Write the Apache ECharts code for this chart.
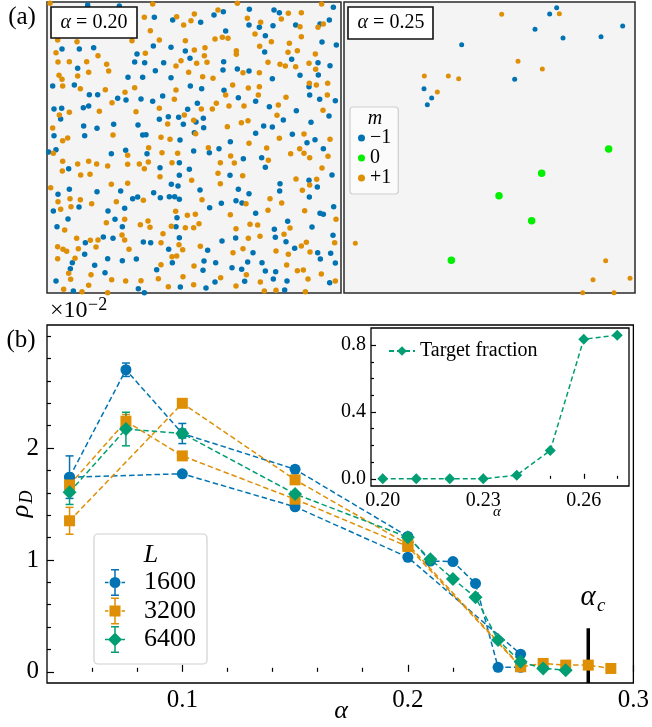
<!DOCTYPE html>
<html><head><meta charset="utf-8">
<script src="https://cdn.jsdelivr.net/npm/echarts@6/dist/echarts.min.js"></script>
<style>html,body{margin:0;padding:0;background:#fff}#c{width:652px;height:727px}</style>
</head><body><div id="c"></div>
<script>
// ---------- Panel (a): snapshot positions (panel units) ----------
const snap020Minus = [[263,15],[358,18],[463,52],[518,60],[186,147],[238,147],[281,143],[411,162],[460,138],[513,142],[556,153],[570,175],[404,186],[434,188],[491,188],[233,205],[466,212],[384,232],[428,232],[513,233],[571,258],[158,258],[223,255],[268,284],[293,284],[353,295],[378,300],[423,297],[458,304],[488,288],[162,327],[185,325],[250,323],[266,318],[563,328],[536,352],[182,357],[251,378],[291,385],[341,373],[414,375],[478,358],[505,350],[550,373],[162,407],[254,407],[428,405],[438,404],[540,420],[583,398],
[1000,22],[670,35],[748,28],[822,30],[838,38],[642,45],[602,67],[747,75],[778,82],[819,77],[887,75],[960,72],[988,60],[677,93],[796,107],[966,126],[1009,135],[794,156],[875,178],[671,185],[954,188],[990,197],[669,210],[712,207],[747,213],[817,236],[900,226],[955,225],[927,260],[605,266],[672,271],[715,293],[767,304],[929,285],[959,298],[1006,302],[592,310],[808,320],[889,332],[850,360],[987,348],[588,366],[610,355],[933,367],[611,383],[791,378],[817,381],[767,400],[877,403],[945,419],[691,425],[921,428],
[146,456],[168,449],[334,461],[377,451],[441,461],[581,453],[480,503],[538,488],[206,506],[538,526],[568,508],[208,568],[174,583],[291,575],[362,573],[398,596],[413,591],[461,578],[481,593],[508,590],[524,590],[538,598],[514,553],[534,558],[237,621],[160,633],[374,625],[324,633],[531,653],[204,657],[345,658],[367,680],[171,680],[528,680],[310,711],[339,715],[256,728],[430,726],[452,728],[538,713],[506,748],[254,763],[323,776],[367,782],[409,777],[217,788],[517,788],[284,796],[211,806],[470,809],[315,818],[168,843],[541,861],[220,873],[415,866],[433,878],
[628,458],[657,446],[970,446],[730,476],[785,473],[796,502],[690,526],[927,541],[996,525],[840,551],[952,561],[600,570],[715,568],[747,581],[839,573],[928,591],[629,623],[664,610],[708,602],[726,609],[1001,620],[767,640],[960,640],[970,643],[863,664],[823,688],[936,681],[707,714],[826,712],[858,725],[999,706],[666,723],[623,751],[759,758],[884,745],[953,758],[992,760],[961,777],[612,783],[647,788],[743,786],[786,788],[1006,789],[609,811],[696,803],[725,808],[796,813],[827,815],[820,837],[861,843],[645,846],[734,844],[989,848],[618,864],[854,870]];
const snap020Plus = [[150,10],[458,12],[433,52],[530,50],[551,75],[573,62],[583,42],[451,92],[173,120],[231,125],[396,122],[478,120],[556,122],[168,158],[294,167],[436,160],[583,150],[543,182],[174,186],[208,185],[260,185],[528,198],[320,193],[326,213],[266,217],[177,226],[186,238],[233,228],[566,217],[528,270],[188,258],[241,266],[316,269],[375,277],[404,263],[336,308],[523,298],[178,345],[208,337],[298,334],[408,335],[478,325],[553,345],[158,384],[339,405],[503,372],[581,361],[188,422],[203,414],[483,412],[510,418],
[712,10],[965,12],[654,30],[865,40],[904,38],[742,55],[782,67],[844,57],[900,80],[954,82],[970,72],[765,102],[904,110],[645,117],[667,112],[684,115],[814,125],[779,139],[868,130],[615,143],[613,167],[709,152],[709,163],[864,157],[892,152],[946,162],[590,190],[621,187],[804,187],[840,193],[856,198],[887,200],[927,190],[729,218],[778,218],[947,208],[608,230],[639,235],[928,250],[949,255],[983,250],[698,255],[745,264],[778,260],[677,285],[775,285],[858,292],[982,285],[649,310],[604,327],[637,327],[687,318],[732,318],[835,315],[969,331],[831,346],[682,380],[724,368],[744,362],[587,401],[838,415],[912,402],[990,418],[747,430],
[160,460],[383,466],[446,443],[486,458],[533,460],[188,484],[233,492],[266,484],[290,492],[323,498],[383,493],[418,492],[445,486],[433,506],[516,488],[187,513],[242,525],[270,523],[480,530],[575,541],[152,563],[334,553],[383,550],[430,601],[174,605],[210,596],[241,599],[275,611],[213,620],[182,628],[349,605],[527,634],[562,646],[586,643],[374,658],[319,668],[421,674],[444,663],[450,682],[194,690],[514,679],[556,683],[581,683],[489,701],[366,705],[374,720],[230,715],[271,721],[294,720],[483,728],[537,734],[173,740],[189,748],[200,754],[235,746],[288,741],[387,748],[548,749],[225,775],[173,776],[516,770],[530,768],[483,794],[582,798],[206,820],[273,824],[212,838],[335,839],[377,843],[423,842],[475,836],[549,830],[266,856],[505,860],[581,854],[191,868],[246,875],[323,878],
[625,443],[800,444],[692,468],[805,481],[872,461],[899,446],[912,460],[929,473],[984,469],[661,488],[703,489],[966,504],[654,520],[728,527],[661,551],[888,537],[950,538],[929,555],[907,571],[606,599],[738,611],[810,596],[845,609],[804,631],[914,632],[691,644],[597,671],[750,673],[773,675],[870,684],[1008,658],[708,686],[745,715],[780,709],[852,703],[1004,728],[601,739],[729,746],[699,758],[904,738],[919,727],[828,753],[865,763],[930,756],[860,795],[739,824],[892,812],[910,810],[964,822],[662,833],[781,846],[924,837],[1006,843],[708,858],[793,873],[828,871],[916,875]];
const snap025Minus = [[629,42],[650,23],[848,78],[585,88],[669,114],[783,110],[365,134],[524,238],[252,266],[275,294],[262,314]];
const snap025Zero = [[806,447],[605,520],[477,587],[575,662],[334,781]];
const snap025Plus = [[485,43],[658,41],[534,184],[607,207],[253,228],[325,228],[356,236],[292,276],[46,730],[797,782],[759,839],[870,835],[728,878],[822,878]];

// ---------- Panel (b): rho_D (x1e-2) vs alpha ----------
const rho1600a = [[0.05,1.74],[0.075,2.70],[0.1,2.13],[0.15,1.81],[0.2,1.21],[0.21,0.99],[0.22,0.985],[0.23,0.79],[0.24,0.04],[0.25,0.04]];
const rho1600b = [[0.05,1.74],[0.1,1.77],[0.15,1.475],[0.2,1.024],[0.25,0.158]];
const rho3200a = [[0.05,1.67],[0.075,2.24],[0.1,1.93],[0.15,1.543],[0.2,1.12],[0.25,0.045],[0.26,0.075],[0.27,0.06],[0.28,0.06],[0.29,0.03]];
const rho3200b = [[0.05,1.35],[0.1,2.40],[0.15,1.716],[0.2,1.14],[0.25,0.05]];
const rho6400 = [[0.05,1.606],[0.075,2.17],[0.1,2.13],[0.15,1.59],[0.2,1.203],[0.21,1.006],[0.22,0.83],[0.23,0.666],[0.24,0.284],[0.25,0.09],[0.26,0.03],[0.27,0.015]];
const err1600 = [[0.05,1.74,0.19],[0.075,2.70,0.06],[0.1,2.13,0.09],[0.15,1.81,0.03]];
const err3200 = [[0.05,1.35,0.12],[0.075,2.24,0.06]];
const err6400 = [[0.05,1.606,0.11],[0.075,2.17,0.15],[0.1,2.13,0.04]];
const alphaC = 0.28;
const alphaCBar = [[alphaC,-0.1],[alphaC,0.39]];
const mainXMajor = [0.1,0.2,0.3];
const mainXMinor = [0.06,0.08,0.12,0.14,0.16,0.18,0.22,0.24,0.26,0.28];
const mainYMajor = [0,1,2];
const mainYMinor = [0.2,0.4,0.6,0.8,1.2,1.4,1.6,1.8,2.2,2.4,2.6,2.8,3.0];

// ---------- Inset: target fraction ----------
const insetAlpha = [0.20,0.21,0.22,0.23,0.24,0.25,0.26,0.27];
const targetFraction = [0,0,0,0,0.022,0.17,0.836,0.86];
const insetXMajor = [0.20,0.23,0.26];
const insetXMinor = [0.21,0.22,0.24,0.25,0.27];
const insetYMajor = [0,0.4,0.8];
const insetYMinor = [0.1,0.2,0.3,0.5,0.6,0.7];

const C_BLUE='#0173b2', C_ORANGE='#de8f05', C_GREEN='#029e73', C_LIME='#00f000';
const SERIF='"Liberation Serif","DejaVu Serif",serif';

const chart = echarts.init(document.getElementById('c'), null, {renderer:'canvas'});

function errSeries(name, data, color){
  return {type:'custom', name, xAxisIndex:2, yAxisIndex:2, data, encode:{x:0,y:1}, z:3,
    renderItem:(p,api)=>{
      const x=api.value(0), y=api.value(1), e=api.value(2);
      const t=api.coord([x,y+e]), b=api.coord([x,y-e]); const hw=4;
      const st={stroke:color,lineWidth:1.5};
      return {type:'group',children:[
        {type:'line',shape:{x1:t[0],y1:t[1],x2:b[0],y2:b[1]},style:st},
        {type:'line',shape:{x1:t[0]-hw,y1:t[1],x2:t[0]+hw,y2:t[1]},style:st},
        {type:'line',shape:{x1:b[0]-hw,y1:b[1],x2:b[0]+hw,y2:b[1]},style:st}]};
    }};
}
function mainLine(name, data, color, symbol, size){
  return {type:'line', name, xAxisIndex:2, yAxisIndex:2, data, symbol, symbolSize:size,
    lineStyle:{color, width:1.5, type:[5.5,3]}, itemStyle:{color}, z:3, clip:false};
}
function scat(name, data, color, xi, size){
  return {type:'scatter', name, xAxisIndex:xi, yAxisIndex:xi, data, symbolSize:size,
    itemStyle:{color, opacity:1}, clip:true};
}
const hidden = {show:false};
function panelAxis(i, min, max, inverse){ return {gridIndex:i, type:'value', min, max, inverse:!!inverse, show:false}; }

const iconCircle='path://M9.25,0h1.5v27h-1.5z M6,0h8v1.5h-8z M6,25.5h8v1.5h-8z M0,12.75h3.5v1.5h-3.5z M16.5,12.75h3.5v1.5h-3.5z M4.5,13.5a5.5,5.5 0 1,1 11,0a5.5,5.5 0 1,1 -11,0z';
const iconSquare='path://M9.25,0h1.5v27h-1.5z M6,0h8v1.5h-8z M6,25.5h8v1.5h-8z M0,12.75h3.5v1.5h-3.5z M16.5,12.75h3.5v1.5h-3.5z M4.5,8h11v11h-11z';
const iconDiamond='path://M9.25,0h1.5v27h-1.5z M6,0h8v1.5h-8z M6,25.5h8v1.5h-8z M0,12.75h3.5v1.5h-3.5z M16.5,12.75h3.5v1.5h-3.5z M10,6.5L17,13.5L10,20.5L3,13.5z';

const tickStyle = {color:'#000', width:1.2};
const option = {
  animation:false,
  backgroundColor:'#fff',
  grid:[
    {left:47, top:2, width:294, height:291, show:true, backgroundColor:'#f4f4f4', borderColor:'#2a2a2a', borderWidth:1.5},
    {left:344, top:2, width:291, height:291, show:true, backgroundColor:'#f4f4f4', borderColor:'#2a2a2a', borderWidth:1.5},
    {left:47, top:325, width:588, height:358, show:true, backgroundColor:'transparent', borderColor:'#000', borderWidth:1.3},
    {left:371, top:328, width:258, height:158, show:true, backgroundColor:'#fff', borderColor:'#000', borderWidth:1.3}
  ],
  xAxis:[
    panelAxis(0,141,1023), panelAxis(1,12,885),
    {gridIndex:2, type:'value', min:0.04, max:0.3, position:'bottom', splitLine:hidden, axisLine:hidden,
      axisTick:{show:true, inside:true, length:7, customValues:mainXMajor, lineStyle:tickStyle},
      axisLabel:{customValues:mainXMajor, formatter:v=>v.toFixed(1), fontFamily:SERIF, fontSize:25, color:'#000', margin:5}},
    {gridIndex:2, type:'value', min:0.04, max:0.3, position:'bottom', splitLine:hidden, axisLine:hidden,
      axisTick:{show:true, inside:true, length:4, customValues:mainXMinor, lineStyle:tickStyle}, axisLabel:hidden},
    {gridIndex:3, type:'value', min:0.1965, max:0.2735, position:'bottom', splitLine:hidden, axisLine:hidden,
      axisTick:{show:true, inside:true, length:5, customValues:insetXMajor, lineStyle:tickStyle},
      axisLabel:{customValues:insetXMajor, formatter:v=>v.toFixed(2), fontFamily:SERIF, fontSize:20, color:'#000', margin:5}},
    {gridIndex:3, type:'value', min:0.1965, max:0.2735, position:'bottom', splitLine:hidden, axisLine:hidden,
      axisTick:{show:true, inside:true, length:3, customValues:insetXMinor, lineStyle:tickStyle}, axisLabel:hidden}
  ],
  yAxis:[
    panelAxis(0,6,879,true), panelAxis(1,6,879,true),
    {gridIndex:2, type:'value', min:-0.1, max:3.1, position:'left', splitLine:hidden, axisLine:hidden,
      axisTick:{show:true, inside:true, length:7, customValues:mainYMajor, lineStyle:tickStyle},
      axisLabel:{customValues:mainYMajor, formatter:v=>String(Math.round(v)), fontFamily:SERIF, fontSize:25, color:'#000', margin:8}},
    {gridIndex:2, type:'value', min:-0.1, max:3.1, position:'left', splitLine:hidden, axisLine:hidden,
      axisTick:{show:true, inside:true, length:4, customValues:mainYMinor, lineStyle:tickStyle}, axisLabel:hidden},
    {gridIndex:3, type:'value', min:-0.043, max:0.903, position:'left', splitLine:hidden, axisLine:hidden,
      axisTick:{show:true, inside:true, length:5, customValues:insetYMajor, lineStyle:tickStyle},
      axisLabel:{customValues:insetYMajor, formatter:v=>v.toFixed(1), fontFamily:SERIF, fontSize:20, color:'#000', margin:5}},
    {gridIndex:3, type:'value', min:-0.043, max:0.903, position:'left', splitLine:hidden, axisLine:hidden,
      axisTick:{show:true, inside:true, length:3, customValues:insetYMinor, lineStyle:tickStyle}, axisLabel:hidden}
  ],
  legend:[
    {data:[{name:'1600',icon:iconCircle},{name:'3200',icon:iconSquare},{name:'6400',icon:iconDiamond}],
      orient:'vertical', left:94, top:534, padding:[35,11,11,11], itemGap:1.5, itemWidth:20, itemHeight:27,
      backgroundColor:'rgba(255,255,255,0.8)', borderColor:'#d0d0d0', borderWidth:1.2, borderRadius:4, selectedMode:false,
      textStyle:{fontFamily:SERIF, fontSize:26, lineHeight:27, color:'#000', padding:[0,0,0,14]}},
    {data:['Target fraction'], orient:'vertical', left:388, top:341, padding:0, itemWidth:26, itemHeight:12, selectedMode:false,
      textStyle:{fontFamily:SERIF, fontSize:20, color:'#000'}},
    {data:['−1','0','+1'], orient:'vertical', left:350, top:107, padding:[21,7,6,8], itemGap:0, itemWidth:7, itemHeight:7, icon:'circle',
      backgroundColor:'rgba(255,255,255,0.6)', borderColor:'#cfcfcf', borderWidth:1.2, borderRadius:3, selectedMode:false,
      textStyle:{fontFamily:SERIF, fontSize:20, lineHeight:19, color:'#000'}}
  ],
  series:[
    scat('a20 −1', snap020Minus, C_BLUE, 0, 5.5),
    scat('a20 +1', snap020Plus, C_ORANGE, 0, 5.5),
    scat('−1', snap025Minus, C_BLUE, 1, 5),
    scat('0', snap025Zero, C_LIME, 1, 7.5),
    scat('+1', snap025Plus, C_ORANGE, 1, 5),
    {type:'line', name:'alpha_c', xAxisIndex:2, yAxisIndex:2, data:alphaCBar, symbol:'none',
      lineStyle:{color:'#000', width:3.5}, z:2},
    mainLine('1600b', rho1600b, C_BLUE, 'circle', 11),
    mainLine('1600', rho1600a, C_BLUE, 'circle', 11),
    errSeries('e1600', err1600, C_BLUE),
    mainLine('3200b', rho3200b, C_ORANGE, 'rect', 11),
    mainLine('3200', rho3200a, C_ORANGE, 'rect', 11),
    errSeries('e3200', err3200, C_ORANGE),
    mainLine('6400', rho6400, C_GREEN, 'diamond', 14),
    errSeries('e6400', err6400, C_GREEN),
    {type:'line', name:'Target fraction', xAxisIndex:4, yAxisIndex:4,
      data:insetAlpha.map((a,i)=>[a,targetFraction[i]]), symbol:'diamond', symbolSize:11,
      lineStyle:{color:C_GREEN, width:1.5, type:[5,3]}, itemStyle:{color:C_GREEN}, z:5}
  ],
  graphic:[
    {type:'text', x:22, y:17, z:100, style:{text:'(a)', fontFamily:SERIF, fontSize:25, fill:'#000', align:'center', verticalAlign:'middle'}},
    {type:'rect', z:100, shape:{x:51,y:7,width:86,height:31}, style:{fill:'#fff', stroke:'#111', lineWidth:1.6}},
    {type:'text', x:94, y:23, z:101, style:{text:'{i|α} = 0.20', fontFamily:SERIF, fontSize:20, fill:'#000', align:'center', verticalAlign:'middle',
      rich:{i:{fontFamily:SERIF, fontSize:20, fontStyle:'italic', fill:'#000'}}}},
    {type:'rect', z:100, shape:{x:348,y:7,width:85,height:32}, style:{fill:'#fff', stroke:'#111', lineWidth:1.6}},
    {type:'text', x:391, y:23, z:101, style:{text:'{i|α} = 0.25', fontFamily:SERIF, fontSize:20, fill:'#000', align:'center', verticalAlign:'middle',
      rich:{i:{fontFamily:SERIF, fontSize:20, fontStyle:'italic', fill:'#000'}}}},
    {type:'text', x:375, y:119, z:101, style:{text:'m', fontFamily:SERIF, fontSize:20, fontStyle:'italic', fill:'#000', align:'center', verticalAlign:'middle'}},
    {type:'text', x:21, y:340, z:100, style:{text:'(b)', fontFamily:SERIF, fontSize:25, fill:'#000', align:'center', verticalAlign:'middle'}},
    {type:'text', x:50, y:311, z:100, style:{text:'×10', fontFamily:SERIF, fontSize:24, fill:'#000', align:'left', verticalAlign:'middle'}},
    {type:'text', x:88, y:305, z:100, style:{text:'−2', fontFamily:SERIF, fontSize:18, fill:'#000', align:'left', verticalAlign:'middle'}},
    {type:'text', x:151, y:555, z:100, style:{text:'L', fontFamily:SERIF, fontSize:26, fontStyle:'italic', fill:'#000', align:'center', verticalAlign:'middle'}},
    {type:'text', x:21, y:511, rotation:Math.PI/2, z:100, style:{text:'ρ', fontFamily:SERIF, fontSize:26, fontStyle:'italic', fill:'#000', align:'center', verticalAlign:'middle'}},
    {type:'text', x:27, y:497, rotation:Math.PI/2, z:100, style:{text:'D', fontFamily:SERIF, fontSize:18, fontStyle:'italic', fill:'#000', align:'center', verticalAlign:'middle'}},
    {type:'text', x:341, y:711, z:100, style:{text:'α', fontFamily:SERIF, fontSize:26, fontStyle:'italic', fill:'#000', align:'center', verticalAlign:'middle'}},
    {type:'text', x:497, y:512, z:100, style:{text:'α', fontFamily:SERIF, fontSize:15, fontStyle:'italic', fill:'#000', align:'center', verticalAlign:'middle'}},
    {type:'text', x:588, y:597, z:100, style:{text:'α', fontFamily:SERIF, fontSize:29, fontStyle:'italic', fill:'#000', align:'center', verticalAlign:'middle'}},
    {type:'text', x:597, y:606, z:100, style:{text:'c', fontFamily:SERIF, fontSize:19, fontStyle:'italic', fill:'#000', align:'left', verticalAlign:'middle'}}
  ]
};
chart.setOption(option);
</script></body></html>
